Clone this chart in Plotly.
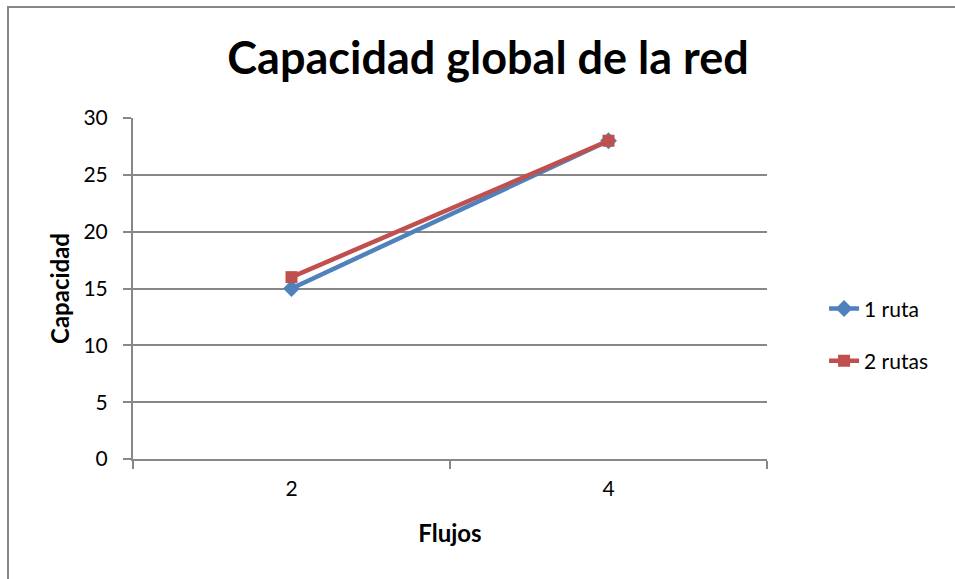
import plotly.graph_objects as go

# Capacity of the network by number of flows
flujos = ["2", "4"]
una_ruta = [15, 28]
dos_rutas = [16, 28]
y_ticks = [0, 5, 10, 15, 20, 25, 30]

BLUE = "#4F81BD"
RED = "#C0504D"
GRID = "#878787"
FONT = "Lato"

fig = go.Figure()
fig.add_trace(go.Scatter(
    x=flujos, y=una_ruta, name="1 ruta", mode="lines+markers",
    line=dict(color=BLUE, width=4.5),
    marker=dict(symbol="diamond", size=13, color=BLUE),
    legendgroup="a",
))
fig.add_trace(go.Scatter(
    x=flujos, y=dos_rutas, name="2 rutas", mode="lines+markers",
    line=dict(color=RED, width=4.5),
    marker=dict(symbol="square", size=12, color=RED),
    legendgroup="b",
))

fig.update_layout(
    width=955, height=579,
    margin=dict(l=133, r=188, t=118, b=120),
    paper_bgcolor="white", plot_bgcolor="white",
    font=dict(family=FONT, size=21, color="black"),
    title=dict(
        text="<b>Capacidad global de la red</b>",
        font=dict(family=FONT, size=45, color="black"),
        x=488 / 955, xanchor="center",
        y=1 - 58 / 579, yanchor="middle",
    ),
    showlegend=True,
    legend=dict(
        x=1.09, xanchor="left", y=0.364, yanchor="middle",
        font=dict(size=21), tracegroupgap=22,
        bgcolor="rgba(0,0,0,0)",
    ),
    xaxis=dict(
        type="category", tickson="boundaries", range=[-0.5, 1.5],
        ticks="outside", ticklen=8, tickcolor=GRID, tickwidth=2,
        ticklabelstandoff=10,
        showline=True, linecolor=GRID, linewidth=2,
        showgrid=False, zeroline=False,
        title=dict(text="<b>Flujos</b>", font=dict(size=24), standoff=26),
    ),
    yaxis=dict(
        range=[0, 30], tickvals=y_ticks,
        ticks="outside", ticklen=8, tickcolor=GRID, tickwidth=2,
        ticklabelstandoff=11,
        showline=True, linecolor=GRID, linewidth=2,
        showgrid=True, gridcolor=GRID, gridwidth=2,
        zeroline=False,
        title=dict(text="<b>Capacidad</b>", font=dict(size=24), standoff=7),
    ),
    shapes=[dict(
        type="rect", xref="paper", yref="paper",
        x0=(8 - 133) / 634, x1=2.0,
        y0=-1.0, y1=(459 - 7) / 341,
        line=dict(color="#878787", width=2), fillcolor="rgba(0,0,0,0)",
        layer="below",
    )],
)

fig.write_html("out.html")
